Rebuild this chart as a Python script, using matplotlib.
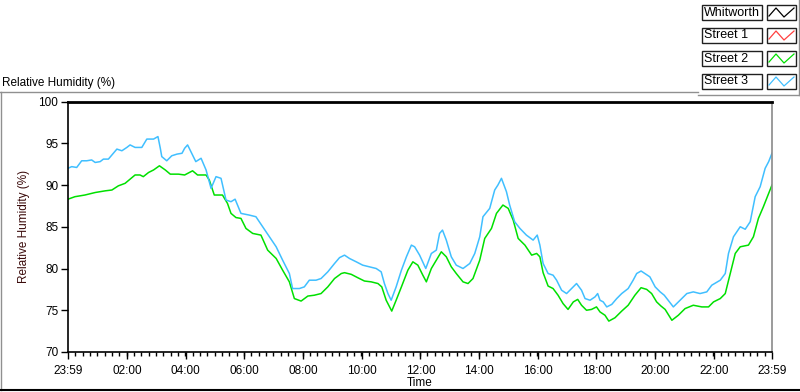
import numpy as np
import matplotlib
matplotlib.use('Agg')
import matplotlib.pyplot as plt
from matplotlib.lines import Line2D
from matplotlib.patches import Rectangle

plt.rcParams['font.family'] = ['Liberation Sans', 'DejaVu Sans']

# ---- data (hours of day, start 23:59 the day before = -1/60) ----
street3_t = [-0.017, 0.11, 0.28, 0.45, 0.62, 0.79, 0.91, 1.08, 1.19, 1.36, 1.48, 1.65, 1.82, 1.99,
             2.10, 2.27, 2.50, 2.67, 2.90, 3.05, 3.13, 3.18, 3.35, 3.52, 3.70, 3.87, 3.96, 4.06,
             4.34, 4.52, 4.69, 4.86, 5.03, 5.20, 5.37, 5.54, 5.68, 5.88, 6.16, 6.39, 6.62, 6.85,
             7.08, 7.30, 7.53, 7.64, 7.87, 8.04, 8.21, 8.44, 8.61, 8.84, 9.07, 9.24, 9.41, 9.58,
             9.81, 10.03, 10.26, 10.49, 10.66, 10.77, 10.89, 11.00, 11.17, 11.35, 11.52, 11.69,
             11.80, 11.97, 12.18, 12.37, 12.54, 12.65, 12.75, 12.88, 13.05, 13.22, 13.45, 13.68,
             13.85, 14.02, 14.13, 14.36, 14.53, 14.64, 14.76, 14.93, 15.04, 15.21, 15.39, 15.61,
             15.84, 15.98, 16.07, 16.18, 16.35, 16.52, 16.64, 16.81, 16.98, 17.15, 17.32, 17.49,
             17.61, 17.78, 17.95, 18.04, 18.12, 18.23, 18.35, 18.52, 18.69, 18.86, 19.08, 19.25,
             19.37, 19.52, 19.65, 19.82, 20.00, 20.17, 20.31, 20.62, 20.85, 21.08, 21.30, 21.53,
             21.76, 21.93, 22.22, 22.39, 22.50, 22.67, 22.90, 23.07, 23.24, 23.41, 23.58, 23.75,
             23.87, 23.983]
street3_rh = [92.0, 92.2, 92.1, 92.9, 92.9, 93.0, 92.7, 92.8, 93.1, 93.1, 93.6, 94.3, 94.1, 94.5,
              94.8, 94.5, 94.5, 95.5, 95.5, 95.8, 94.4, 93.4, 92.9, 93.5, 93.7, 93.8, 94.4, 94.8,
              92.8, 93.2, 91.8, 89.6, 91.0, 90.8, 88.2, 88.0, 88.3, 86.6, 86.4, 86.2, 85.0, 83.8,
              82.6, 81.0, 79.4, 77.6, 77.6, 77.8, 78.6, 78.6, 78.8, 79.6, 80.6, 81.3, 81.6, 81.2,
              80.8, 80.4, 80.2, 80.0, 79.6, 78.2, 77.0, 76.2, 77.8, 79.8, 81.4, 82.8,
              82.6, 81.6, 80.0, 81.8, 82.2, 84.2, 84.6, 83.4, 81.4, 80.4, 80.0, 80.6,
              81.8, 83.8, 86.2, 87.2, 89.4, 90.0, 90.8, 89.2, 87.6, 85.6, 84.8, 84.0,
              83.4, 84.0, 82.8, 80.6, 79.4, 79.2, 78.6, 77.4, 77.0, 77.6, 78.2, 77.4,
              76.4, 76.2, 76.6, 77.0, 76.2, 76.0, 75.4, 75.7, 76.4, 77.0, 77.6, 78.6,
              79.4, 79.7, 79.4, 79.0, 77.8, 77.2, 76.8, 75.4, 76.2, 77.0, 77.2, 77.0,
              77.2, 78.0, 78.6, 79.4, 81.8, 83.8, 85.0, 84.7, 85.6, 88.6, 89.8, 92.0,
              92.8, 93.8]

street2_t = [-0.017, 0.22, 0.56, 0.91, 1.08, 1.25, 1.48, 1.70, 1.93, 2.10, 2.27, 2.44, 2.55, 2.73,
             2.90, 3.10, 3.30, 3.47, 3.75, 3.96, 4.23, 4.40, 4.69, 4.80, 4.97, 5.25, 5.42, 5.54,
             5.71, 5.88, 6.05, 6.28, 6.56, 6.79, 7.08, 7.30, 7.53, 7.70, 7.93, 8.16, 8.38, 8.61,
             8.84, 9.07, 9.30, 9.41, 9.64, 9.86, 10.09, 10.32, 10.55, 10.68, 10.83, 11.02, 11.17,
             11.35, 11.57, 11.74, 11.91, 12.08, 12.20, 12.37, 12.54, 12.71, 12.88, 13.05, 13.22,
             13.45, 13.62, 13.79, 14.02, 14.19, 14.42, 14.59, 14.81, 14.99, 15.16, 15.33, 15.56,
             15.79, 15.96, 16.07, 16.18, 16.35, 16.52, 16.69, 16.86, 17.03, 17.21, 17.36, 17.49,
             17.66, 17.83, 18.00, 18.12, 18.29, 18.42, 18.63, 18.86, 19.08, 19.31, 19.52, 19.71,
             19.88, 20.05, 20.20, 20.34, 20.57, 20.79, 21.02, 21.30, 21.59, 21.82, 21.99, 22.22,
             22.39, 22.56, 22.73, 22.90, 23.18, 23.35, 23.52, 23.69, 23.87, 23.983]
street2_rh = [88.3, 88.6, 88.8, 89.1, 89.2, 89.3, 89.4, 89.9, 90.2, 90.7, 91.2, 91.2, 91.0, 91.5,
              91.8, 92.3, 91.8, 91.3, 91.3, 91.2, 91.7, 91.2, 91.2, 90.6, 88.8, 88.8, 87.8, 86.6,
              86.1, 86.0, 84.8, 84.2, 84.0, 82.2, 81.2, 79.8, 78.4, 76.4, 76.1, 76.7, 76.8, 77.0,
              77.8, 78.8, 79.4, 79.5, 79.3, 78.9, 78.5, 78.4, 78.2, 77.8, 76.2, 74.9, 76.2,
              77.8, 79.8, 80.8, 80.4, 79.2, 78.4, 80.0, 81.0, 82.0, 81.4, 80.2, 79.4,
              78.4, 78.2, 78.8, 81.0, 83.6, 84.8, 86.6, 87.6, 87.2, 85.8, 83.6, 82.8,
              81.6, 81.8, 81.4, 79.5, 77.9, 77.6, 76.8, 75.8, 75.1, 76.0, 76.3, 75.6,
              75.0, 75.1, 75.4, 74.8, 74.4, 73.7, 74.1, 74.9, 75.6, 76.8, 77.7, 77.5,
              77.0, 76.0, 75.5, 75.1, 73.8, 74.4, 75.2, 75.6, 75.4, 75.4, 76.0, 76.4,
              77.0, 79.4, 81.8, 82.6, 82.8, 83.8, 86.0, 87.4, 89.0, 90.0]

legend_names = ['Whitworth', 'Street 1', 'Street 2', 'Street 3']
legend_colors = ['#000000', '#ff4040', '#00e000', '#40bfff']

tick_hours = [-1 / 60, 2, 4, 6, 8, 10, 12, 14, 16, 18, 20, 22, 24 - 1 / 60]
tick_labels = ['23:59', '02:00', '04:00', '06:00', '08:00', '10:00', '12:00',
               '14:00', '16:00', '18:00', '20:00', '22:00', '23:59']

fig = plt.figure(figsize=(8, 3.92), dpi=100)
W, H = 800.0, 392.0
ax = fig.add_axes([68 / W, 1 - 352 / H, (772 - 68) / W, (352 - 101.5) / H])

ax.plot(street2_t, street2_rh, color=legend_colors[2], lw=1.1)
ax.plot(street3_t, street3_rh, color=legend_colors[3], lw=1.1)

ax.set_xlim(-1 / 60, 24 - 1 / 60)
ax.set_ylim(70, 100)
ax.set_yticks([70, 75, 80, 85, 90, 95, 100])
ax.set_xticks(tick_hours)
ax.set_xticklabels(tick_labels)
ax.set_xticks(np.arange(0.25 - 1 / 60, 24, 0.25), minor=True)
ax.tick_params(axis='both', which='major', direction='out', length=5, width=1,
               labelsize=8.5, colors='black')
ax.tick_params(axis='x', which='major', pad=4)
ax.tick_params(axis='y', which='major', pad=2)
ax.tick_params(axis='x', which='minor', direction='out', length=3, width=1)

for s in ['left', 'bottom']:
    ax.spines[s].set_color('black')
    ax.spines[s].set_linewidth(1.2)
ax.spines['top'].set_color('black')
ax.spines['top'].set_linewidth(2)
ax.spines['right'].set_color('#8a8a8a')
ax.spines['right'].set_linewidth(1.2)

ax.set_xlabel('Time', fontsize=8.5)
ax.xaxis.set_label_coords(0.5, -0.1)
ax.set_ylabel('Relative Humidity (%)', fontsize=8.5, color='#3a0a0a')
ax.yaxis.set_label_coords(-0.054, 0.5)

# chart caption above the plot frame
fig.text(2 / W, 1 - 83 / H, 'Relative Humidity (%)', fontsize=8.5, va='center', ha='left')

# outer frame lines
fig.add_artist(Line2D([0, 698 / W], [1 - 92 / H] * 2, color='#909090', lw=1))
fig.add_artist(Line2D([1 / W, 1 / W], [1 - 92 / H, 1 - 390 / H], color='#909090', lw=1))
fig.add_artist(Line2D([0, 1], [1 - 390 / H] * 2, color='black', lw=1.5))
fig.add_artist(Line2D([698 / W, 799 / W], [1 - 95 / H] * 2, color='#909090', lw=1))
fig.add_artist(Line2D([799 / W, 799 / W], [1, 1 - 95 / H], color='#909090', lw=1))

# plot legend
for i, (name, col) in enumerate(zip(legend_names, legend_colors)):
    y0 = 5 + i * 23
    fig.add_artist(Rectangle((702 / W, 1 - (y0 + 15) / H), 60 / W, 15 / H,
                             facecolor='white', edgecolor='#202020', lw=1))
    fig.text(704 / W, 1 - (y0 + 7.5) / H, name, fontsize=9, va='center', ha='left')
    fig.add_artist(Rectangle((767 / W, 1 - (y0 + 15) / H), 29 / W, 15 / H,
                             facecolor='white', edgecolor='#202020', lw=1))
    zx = np.array([769, 776, 784, 794]) / W
    zy = 1 - (y0 + np.array([11, 3, 12, 3])) / H
    fig.add_artist(Line2D(zx, zy, color=col, lw=0.9))

fig.savefig('out.png', dpi=100)
